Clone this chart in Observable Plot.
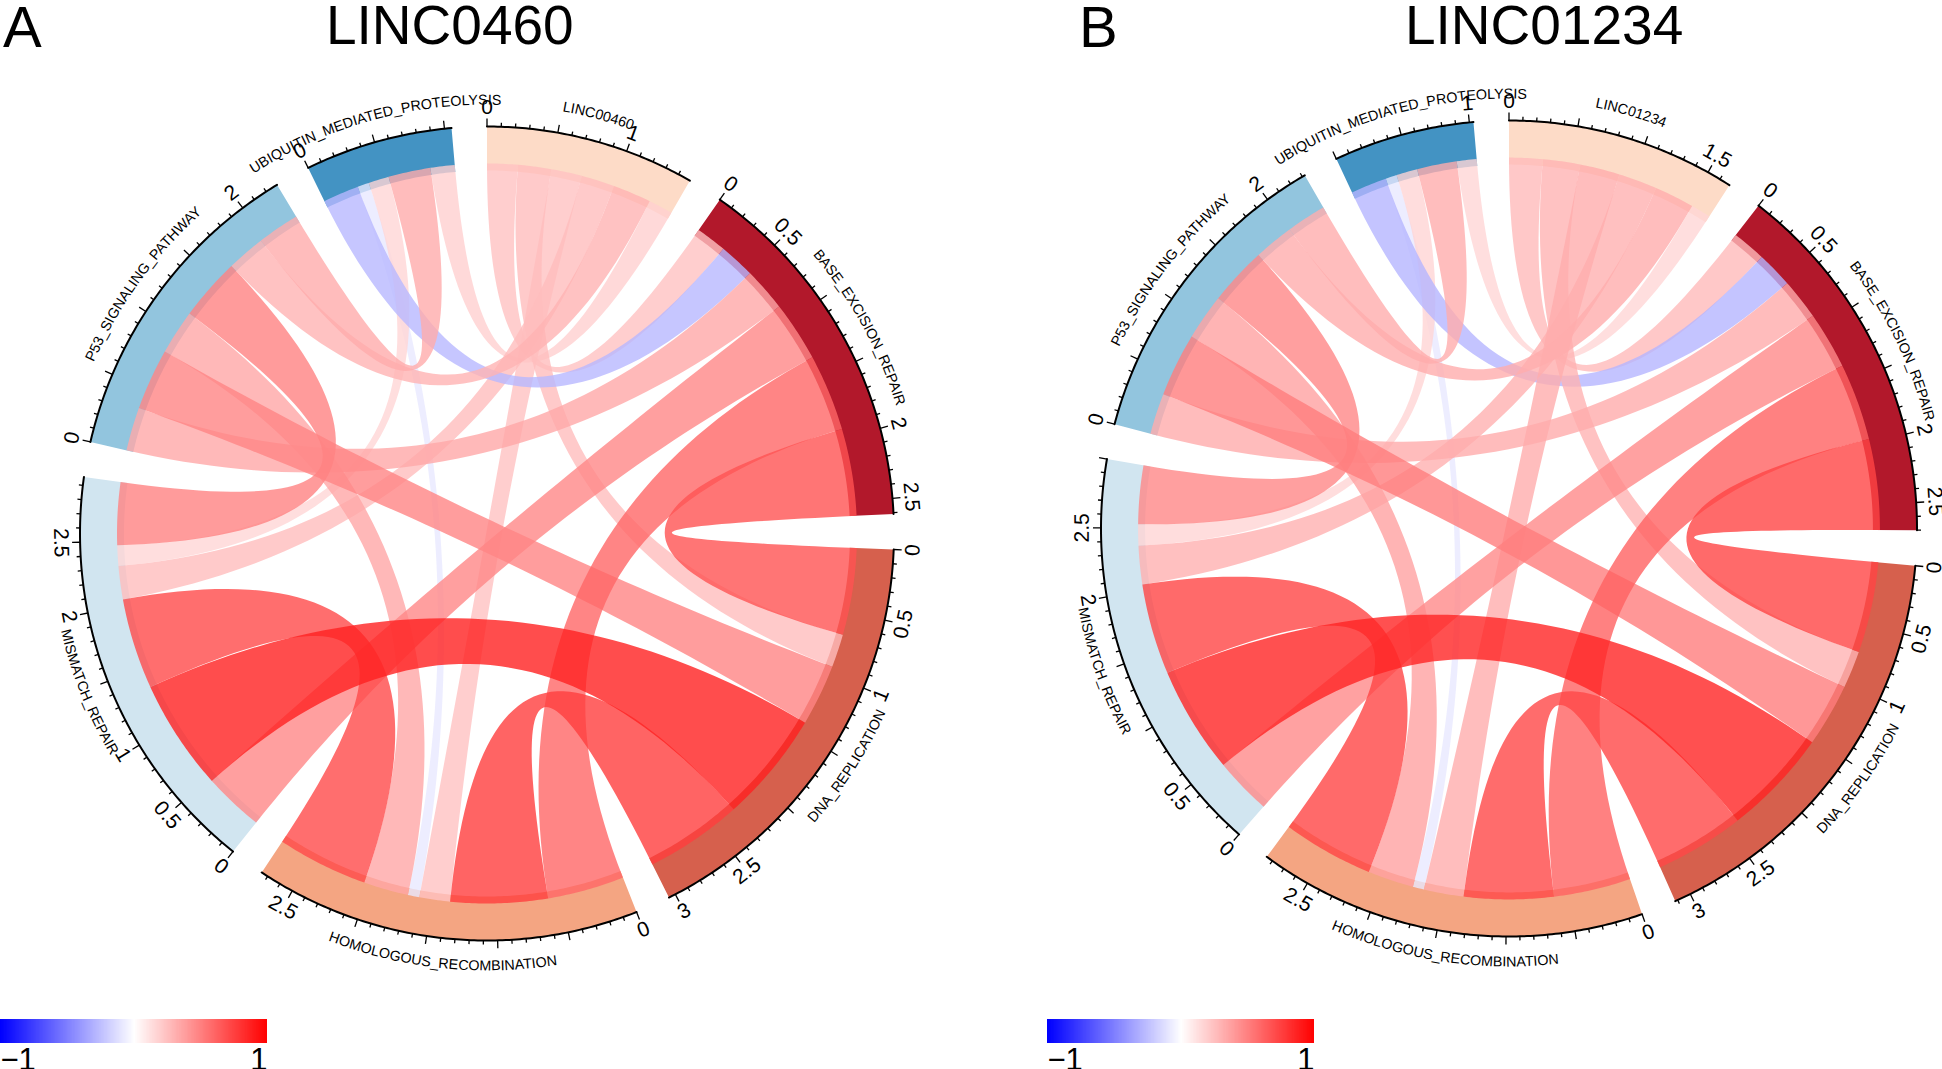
<!DOCTYPE html>
<html>
<head>
<meta charset="utf-8">
<script src="https://cdn.jsdelivr.net/npm/d3@7"></script>
<script src="https://cdn.jsdelivr.net/npm/@observablehq/plot@0.6"></script>
<style>
  html, body { margin: 0; padding: 0; background: #fff; }
  #page { position: relative; width: 1942px; height: 1069px; overflow: hidden; font-family: "Liberation Sans", sans-serif; color: #000; }
  #page svg { position: absolute; background: transparent; overflow: visible; }
  .t { position: absolute; line-height: 1; white-space: nowrap; }
</style>
</head>
<body>
<div id="page"></div>
<script>
// ---------- data ----------
const sectorKeys = ["LNC", "BASE", "DNA", "HOM", "MIS", "P53", "UBQ"];
const sectorNamesTail = ["BASE_EXCISION_REPAIR", "DNA_REPLICATION", "HOMOLOGOUS_RECOMBINATION", "MISMATCH_REPAIR", "P53_SIGNALING_PATHWAY", "UBIQUITIN_MEDIATED_PROTEOLYSIS"];
const sectorColors = ["#fddbc7", "#b2182b", "#d6604d", "#f4a582", "#d1e5f0", "#92c5de", "#4393c3"];

const linkFrom = [0, 0, 0, 0, 0, 0, 1, 1, 1, 1, 1, 2, 2, 2, 3, 3, 3, 4, 4, 5];
const linkTo   = [1, 2, 3, 4, 5, 6, 6, 5, 4, 3, 2, 5, 4, 3, 6, 5, 4, 6, 5, 6];
const valuesA  = [.24, .26, .24, .26, .30, .19, -.28, .34, .47, .60, .68, .48, .87, .76, -.09, .35, .71, .16, .49, .33];
const valuesB  = [.27, .30, .32, .31, .32, .16, -.29, .33, .46, .62, .73, .51, .86, .72, -.09, .37, .73, .17, .47, .32];

// order of the partners along each sector, clockwise
const partnerOrder = [
  [1, 2, 3, 4, 5, 6],
  [0, 6, 5, 4, 3, 2],
  [1, 0, 6, 5, 4, 3],
  [1, 2, 0, 6, 5, 4],
  [1, 2, 3, 0, 6, 5],
  [1, 2, 3, 4, 0, 6],
  [1, 2, 3, 4, 5, 0]
];

const tickLabelsA = [[0, 1], [0, .5, 2, 2.5], [0, .5, 1, 2.5, 3], [0, 2.5], [0, .5, 1, 2, 2.5], [0, 2], [0]];
const tickLabelsB = [[0, 1.5], [0, .5, 2, 2.5], [0, .5, 1, 2.5, 3], [0, 2.5], [0, .5, 2, 2.5], [0, 2], [1]];

const gapDeg = 5;
const font = "Liberation Sans";

// ---------- helpers ----------
const rad = d => d * Math.PI / 180;
const px = (r, a) => r * Math.sin(rad(a));
const py = (r, a) => r * Math.cos(rad(a));
const colorScale = {type: "linear", domain: [-1, 0, 1], range: ["#0000ff", "#ffffff", "#ff0000"], interpolate: "rgb"};

function drawPanel({left, width, cx, cy, R, values, tickLabels, firstName, prefix}) {
  const H = 1069;
  const names = [firstName, ...sectorNamesTail];
  const rIn = 363 / 407, rChord = 370 / 407;

  // widths of every link per sector
  const val = (a, b) => {
    for (let i = 0; i < values.length; i++)
      if ((linkFrom[i] === a && linkTo[i] === b) || (linkFrom[i] === b && linkTo[i] === a)) return values[i];
    return 0;
  };
  const sizes = sectorKeys.map((_, s) => d3.sum(partnerOrder[s], p => Math.abs(val(s, p))));
  const perUnit = (360 - gapDeg * sizes.length) / d3.sum(sizes);

  let cursor = 0;
  const sectors = sizes.map((size, s) => {
    const start = cursor, end = cursor + size * perUnit;
    cursor = end + gapDeg;
    return {s, size, start, end, mid: (start + end) / 2, name: names[s], color: sectorColors[s]};
  });

  // slot of each link inside each sector
  const slot = {};
  sectors.forEach(sec => {
    let a = sec.start;
    partnerOrder[sec.s].forEach(p => {
      const w = Math.abs(val(sec.s, p)) * perUnit;
      slot[sec.s + "-" + p] = [a, a + w];
      a += w;
    });
  });

  // chord outlines
  const chordPts = [];
  const arc = (id, v, a0, a1, r) => {
    const n = Math.max(2, Math.ceil(Math.abs(a1 - a0) * 2));
    for (let i = 0; i <= n; i++) {
      const a = a0 + (a1 - a0) * i / n;
      chordPts.push({id, v, x: px(r, a), y: py(r, a)});
    }
  };
  const quad = (id, v, a0, a1, r) => {
    const x0 = px(r, a0), y0 = py(r, a0), x1 = px(r, a1), y1 = py(r, a1);
    for (let i = 1; i < 50; i++) {
      const t = i / 50, c = (1 - t) * (1 - t), e = t * t;
      chordPts.push({id, v, x: c * x0 + e * x1, y: c * y0 + e * y1});
    }
  };
  const order = d3.range(values.length).sort((i, j) => Math.abs(values[i]) - Math.abs(values[j]));
  order.forEach(i => {
    const [a0, a1] = slot[linkFrom[i] + "-" + linkTo[i]];
    const [b0, b1] = slot[linkTo[i] + "-" + linkFrom[i]];
    arc(i, values[i], a0, a1, rChord);
    quad(i, values[i], a1, b0, rChord);
    arc(i, values[i], b0, b1, rChord);
    quad(i, values[i], b1, a0, rChord);
  });

  // sector bands
  const sectorMarks = sectors.map(sec => {
    const pts = [];
    const n = Math.ceil((sec.end - sec.start) * 2);
    for (let i = 0; i <= n; i++) { const a = sec.start + (sec.end - sec.start) * i / n; pts.push([px(1, a), py(1, a)]); }
    for (let i = n; i >= 0; i--) { const a = sec.start + (sec.end - sec.start) * i / n; pts.push([px(rIn, a), py(rIn, a)]); }
    return Plot.line(pts, {x: d => d[0], y: d => d[1], fill: sec.color, stroke: "none"});
  });

  // axis
  const axisPts = [], ticks = [], labels = [];
  sectors.forEach(sec => {
    const n = Math.ceil((sec.end - sec.start) * 2);
    for (let i = 0; i <= n; i++) {
      const a = sec.start + (sec.end - sec.start) * i / n;
      axisPts.push({s: sec.s, x: px(1, a), y: py(1, a)});
    }
    const count = Math.floor(sec.size * 10 + 1e-6);
    for (let k = 0; k <= count; k++) {
      const a = sec.start + (k / 10) * perUnit;
      const major = k % 5 === 0;
      const r2 = major ? 1 + 8 / 407 : 1 + 4 / 407;
      ticks.push({x1: px(1, a), y1: py(1, a), x2: px(r2, a), y2: py(r2, a), major});
    }
    tickLabels[sec.s].forEach(v => {
      const a = sec.start + v * perUnit;
      const rr = 426 / 407;
      const flip = a > 90 && a < 270;
      labels.push({x: px(rr, a), y: py(rr, a), text: String(v), rot: flip ? a - 180 : (a > 270 ? a - 360 : a)});
    });
  });

  // sector names that bend along the circle
  const nameData = sectors.map(sec => {
    const lower = sec.mid > 90 && sec.mid < 270;
    const r = (lower ? 437 : 429) / 407;
    return {name: sec.name, mid: sec.mid, lower, r, x: px(r, sec.mid), y: py(r, sec.mid)};
  });
  const bend = (index, scales, channels, dims, ctx, next) => {
    const g = next(index, scales, channels, dims, ctx);
    const line = d3.line().x(d => scales.x(d[0])).y(d => scales.y(d[1]));
    d3.select(g).selectAll("text").each(function(i) {
      const d = nameData[i];
      const txt = d.name;
      const pts = d3.range(0, 41).map(k => {
        const off = (k / 40 - .5) * 120;
        const a = d.lower ? d.mid - off : d.mid + off;
        return [px(d.r, a), py(d.r, a)];
      });
      const id = prefix + "-arc-" + i;
      const path = document.createElementNS("http://www.w3.org/2000/svg", "path");
      path.setAttribute("id", id);
      path.setAttribute("d", line(pts));
      path.setAttribute("fill", "none");
      g.appendChild(path);
      const el = d3.select(this);
      el.attr("transform", null).attr("x", null).attr("y", null).attr("dy", null).text(null)
        .attr("text-anchor", "middle");
      el.append("textPath").attr("href", "#" + id).attr("startOffset", "50%").text(txt);
    });
    return g;
  };

  const svg = Plot.plot({
    width, height: H, margin: 0,
    style: {background: "transparent", fontFamily: font},
    x: {axis: null, domain: [-cx / R, (width - cx) / R]},
    y: {axis: null, domain: [-(H - cy) / R, cy / R]},
    color: colorScale,
    marks: [
      ...sectorMarks,
      Plot.line(chordPts, {x: "x", y: "y", z: "id", fill: "v", stroke: "none", fillOpacity: 0.8}),
      Plot.line(axisPts, {x: "x", y: "y", z: "s", stroke: "#000", strokeWidth: 2}),
      Plot.link(ticks, {x1: "x1", y1: "y1", x2: "x2", y2: "y2", stroke: "#000", strokeWidth: 1.3}),
      Plot.text(labels, {x: "x", y: "y", text: "text", rotate: "rot", fontSize: 21, fontFamily: font, fill: "#000", textAnchor: "middle", lineAnchor: "middle"}),
      Plot.text(nameData, {x: "x", y: "y", text: "name", fontSize: 14.3, fontFamily: font, fill: "#000", render: bend})
    ]
  });
  svg.style.left = left + "px";
  svg.style.top = "0px";
  return svg;
}

function drawLegend(left, top) {
  const steps = d3.range(-1, 1, 0.01);
  const svg = Plot.plot({
    width: 267, height: 50, margin: 0,
    style: {background: "transparent", fontFamily: font},
    x: {axis: null, domain: [-1, 1]},
    y: {axis: null, domain: [50, 0], range: [50, 0]},
    color: colorScale,
    marks: [
      Plot.rect(steps, {x1: d => d, x2: d => Math.min(1, d + 0.03), y1: 0, y2: 24, fill: d => d}),
      Plot.text(["\u22121"], {x: -1, y: 50, text: d => d, textAnchor: "start", lineAnchor: "bottom", fontSize: 31, fontFamily: font, fill: "#000"}),
      Plot.text(["1"], {x: 1, y: 50, text: d => d, textAnchor: "end", lineAnchor: "bottom", fontSize: 31, fontFamily: font, fill: "#000"})
    ]
  });
  svg.style.left = left + "px";
  svg.style.top = top + "px";
  return svg;
}

function addTitle(text, left, top, size) {
  const el = document.createElement("div");
  el.className = "t";
  el.textContent = text;
  el.style.left = left + "px";
  el.style.top = top + "px";
  el.style.fontSize = size + "px";
  page.appendChild(el);
}

const page = document.getElementById("page");
page.appendChild(drawPanel({left: 0, width: 971, cx: 486.5, cy: 533, R: 407, values: valuesA, tickLabels: tickLabelsA, firstName: "LINC00460", prefix: "a"}));
page.appendChild(drawPanel({left: 971, width: 971, cx: 537.5, cy: 528, R: 408, values: valuesB, tickLabels: tickLabelsB, firstName: "LINC01234", prefix: "b"}));
page.appendChild(drawLegend(0, 1019));
page.appendChild(drawLegend(1047, 1019));
addTitle("A", 3, -2, 58);
addTitle("LINC0460", 326, -2, 55);
addTitle("B", 1079, -2, 58);
addTitle("LINC01234", 1405, -2, 55);
</script>
</body>
</html>
